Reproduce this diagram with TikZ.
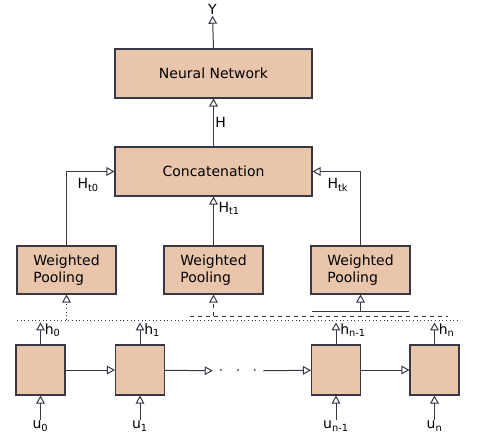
\documentclass[tikz,border=0pt]{standalone}
\usepackage{fontspec}
\setmainfont{DejaVu Sans}
\usepackage{xcolor}
\usepackage{tikz}
\usetikzlibrary{arrows.meta, positioning}

\definecolor{peach}{RGB}{233,197,172}
\definecolor{edge}{RGB}{55,55,70}

\begin{document}
\begin{tikzpicture}[x=0.75pt, y=-0.75pt,
        block/.style={rectangle, draw=edge, fill=peach, line width=0.8pt, inner sep=0pt, font=\fontsize{10.5}{12.5}\selectfont},
        wide/.style={block, minimum width=147.75pt, minimum height=36.75pt},
        pool/.style={block, minimum width=74.25pt, minimum height=36pt, align=left},
        cell/.style={block, minimum width=36.75pt, minimum height=37.5pt},
        lbl/.style={inner sep=1pt, font=\fontsize{10.5}{12.5}\selectfont},
        arr/.style={-{Triangle[open, length=6pt, width=6.5pt]}, line width=0.75pt, draw=edge}
    ]
        \useasboundingbox (0,0) rectangle (481,437);

        % ================= TOP =================
        \node[lbl] (y) at (212.5, 9) {Y};
        \node[wide] (nn) at (213.5, 73.5) {Neural Network};
        \node[wide] (concat) at (213.5, 171.5) {Concatenation};

        \draw[arr] (nn.north) -- (y.south);
        \draw[arr] (concat.north) -- node[lbl, right] {H} (nn.south);

        % ================= POOLING =================
        \node[pool] (pool1) at (66.5, 270) {Weighted\\Pooling};
        \node[pool] (pool2) at (213.5, 270) {Weighted\\Pooling};
        \node[pool] (pool3) at (360.5, 270) {Weighted\\Pooling};

        \draw[arr] (pool1.north) |- (concat.west);
        \draw[arr] (pool2.north) -- (concat.south);
        \draw[arr] (pool3.north) |- (concat.east);

        \node[lbl, anchor=west] (ht0) at (76, 185) {H\textsubscript{t0}};
        \node[lbl, anchor=west] (ht1) at (217, 208) {H\textsubscript{t1}};
        \node[lbl, anchor=west] (htk) at (326, 185) {H\textsubscript{tk}};

        % separator lines under the pooling boxes
        \coordinate (dotL) at (17, 320);
        \coordinate (dotR) at (460, 320);
        \coordinate (dashL) at (190, 316);
        \coordinate (dashR) at (448, 316);
        \coordinate (solL) at (312, 311);
        \coordinate (solR) at (409, 311);
        \draw[edge, dotted, line width=0.75pt] (dotL) -- (dotR);
        \draw[edge, dashed, line width=0.75pt] (dashL) -- (dashR);
        \draw[edge, line width=0.75pt] (solL) -- (solR);

        \draw[arr, dotted] (pool1.south |- dotL) -- (pool1.south);
        \draw[arr, dashed] (pool2.south |- dashL) -- (pool2.south);
        \draw[arr] (pool3.south |- solL) -- (pool3.south);

        % ================= RNN CELLS =================
        \node[cell] (cA) at (40.5, 370) {};
        \node[cell] (cB) at (140, 370) {};
        \node[minimum width=37.5pt, inner sep=0pt, font=\large] (dots) at (238, 371) {$\cdot\;\;\cdot\;\;\cdot$};
        \node[cell] (cC) at (336, 370) {};
        \node[cell] (cD) at (434.5, 370) {};

        \draw[arr] (cA) -- (cB);
        \draw[arr] (cB) -- (dots);
        \draw[arr] (dots) -- (cC);
        \draw[arr] (cC) -- (cD);

        % outputs h
        \foreach \c/\s in {cA/0, cB/1, cC/n-1, cD/n}{
            \coordinate[above=16.5pt of \c.north] (h\c);
            \draw[arr] (\c.north) -- (h\c);
            \node[lbl, anchor=north west, xshift=2pt, yshift=0pt] (hl\c) at (h\c) {h\textsubscript{\s}};
        }

        % inputs u
        \foreach \c/\s in {cA/0, cB/1, cC/n-1, cD/n}{
            \node[lbl, anchor=north] (u\c) at ([yshift=-18pt]\c.south) {u\textsubscript{\s}};
            \draw[arr] (u\c) -- (\c.south);
        }
    \end{tikzpicture}
\end{document}
